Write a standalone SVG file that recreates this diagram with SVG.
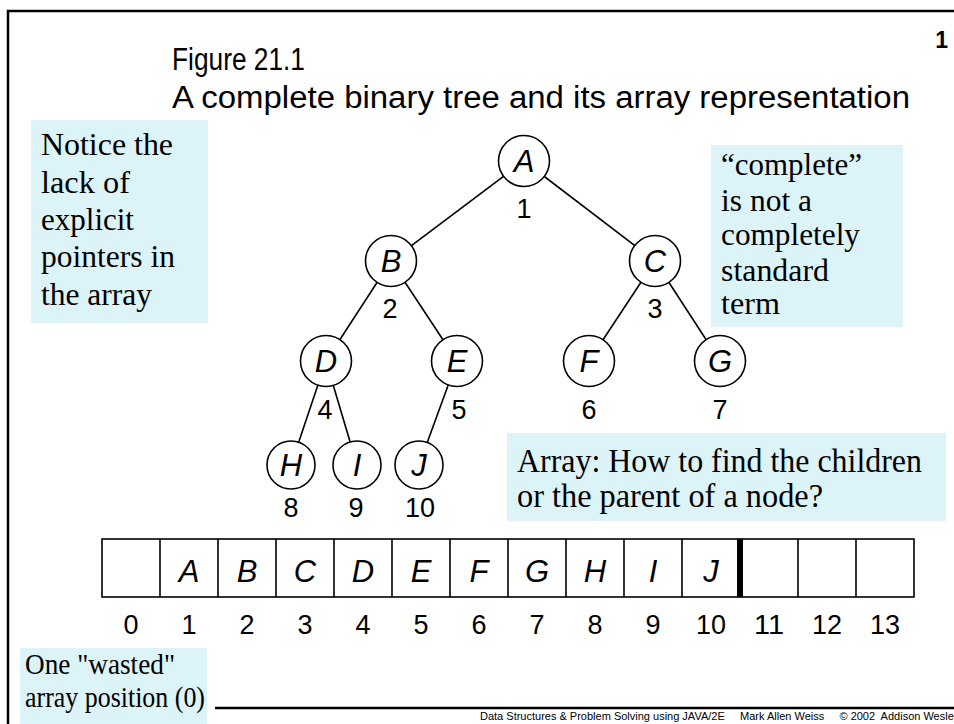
<svg xmlns="http://www.w3.org/2000/svg" width="954" height="724" viewBox="0 0 954 724">
  <style>
    .frame { stroke: #000; stroke-width: 2.5; fill: none; }
    .note { fill: #DCF3F8; }
    .serif { font-family: "Liberation Serif", "Times New Roman", serif; fill: #000; }
    .sans { font-family: "Liberation Sans", Arial, sans-serif; fill: #000; }
    .title { font-size: 31px; }
    .node circle { fill: #fff; stroke: #000; stroke-width: 1.6; }
    .label { font-family: "Liberation Sans", Arial, sans-serif; font-style: italic; font-size: 31px; text-anchor: middle; }
    .idx { font-family: "Liberation Sans", Arial, sans-serif; font-size: 27px; text-anchor: middle; }
    .edges line { stroke: #000; stroke-width: 1.6; }
    .cell { fill: #fff; stroke: #000; stroke-width: 1.6; }
    .foot { font-family: "Liberation Sans", Arial, sans-serif; font-size: 11px; }
  </style>

  <rect width="954" height="724" fill="#fff"/>

  <!-- slide frame -->
  <path class="frame" d="M8,724 V11 H954"/>
  <line x1="215" y1="708" x2="954" y2="708" stroke="#000" stroke-width="2.5"/>
  <text class="sans" x="948" y="48" font-size="23" font-weight="bold" text-anchor="end">1</text>

  <!-- title -->
  <g id="title" class="sans title">
    <text x="172" y="70" textLength="133" lengthAdjust="spacingAndGlyphs">Figure 21.1</text>
    <text x="172" y="108" textLength="738" lengthAdjust="spacingAndGlyphs">A complete binary tree and its array representation</text>
  </g>

  <!-- side notes -->
  <g id="note-pointers">
    <rect class="note" x="31" y="120" width="177" height="203"/>
    <g class="serif" font-size="31">
      <text x="41" y="155" textLength="132" lengthAdjust="spacingAndGlyphs">Notice the</text>
      <text x="41" y="193" textLength="89" lengthAdjust="spacingAndGlyphs">lack of</text>
      <text x="41" y="230" textLength="93" lengthAdjust="spacingAndGlyphs">explicit</text>
      <text x="41" y="267" textLength="134" lengthAdjust="spacingAndGlyphs">pointers in</text>
      <text x="41" y="305" textLength="111" lengthAdjust="spacingAndGlyphs">the array</text>
    </g>
  </g>

  <g id="note-complete">
    <rect class="note" x="711" y="145" width="192" height="182"/>
    <g class="serif" font-size="31">
      <text x="721" y="175" textLength="141" lengthAdjust="spacingAndGlyphs">“complete”</text>
      <text x="721" y="211" textLength="91" lengthAdjust="spacingAndGlyphs">is not a</text>
      <text x="721" y="245" textLength="139" lengthAdjust="spacingAndGlyphs">completely</text>
      <text x="721" y="281" textLength="108" lengthAdjust="spacingAndGlyphs">standard</text>
      <text x="721" y="314" textLength="59" lengthAdjust="spacingAndGlyphs">term</text>
    </g>
  </g>

  <g id="note-array">
    <rect class="note" x="507" y="433" width="439" height="88"/>
    <g class="serif" font-size="33">
      <text x="517" y="472" textLength="405" lengthAdjust="spacingAndGlyphs">Array: How to find the children</text>
      <text x="517" y="507" textLength="306" lengthAdjust="spacingAndGlyphs">or the parent of a node?</text>
    </g>
  </g>

  <g id="note-wasted">
    <rect class="note" x="20" y="648" width="187" height="76"/>
    <g class="serif" font-size="29">
      <text x="25" y="674" textLength="150" lengthAdjust="spacingAndGlyphs">One "wasted"</text>
      <text x="25" y="707" textLength="180" lengthAdjust="spacingAndGlyphs">array position (0)</text>
    </g>
  </g>

  <!-- tree edges -->
  <g id="edges" class="edges">
    <line x1="524" y1="161" x2="391" y2="261"/>
    <line x1="524" y1="161" x2="655" y2="261"/>
    <line x1="391" y1="261" x2="326" y2="361"/>
    <line x1="391" y1="261" x2="457" y2="361"/>
    <line x1="655" y1="261" x2="589" y2="361"/>
    <line x1="655" y1="261" x2="720" y2="361"/>
    <line x1="326" y1="361" x2="291" y2="465"/>
    <line x1="326" y1="361" x2="357" y2="465"/>
    <line x1="457" y1="361" x2="419" y2="465"/>
  </g>

  <!-- tree nodes -->
  <g id="node-A" class="node"><circle cx="524" cy="161" r="25.5"/><text class="label" x="524" y="172">A</text><text class="idx" x="524" y="218">1</text></g>
  <g id="node-B" class="node"><circle cx="391" cy="261" r="25.5"/><text class="label" x="391" y="272">B</text><text class="idx" x="390" y="318">2</text></g>
  <g id="node-C" class="node"><circle cx="655" cy="261" r="25.5"/><text class="label" x="655" y="272">C</text><text class="idx" x="655" y="318">3</text></g>
  <g id="node-D" class="node"><circle cx="326" cy="361" r="25.5"/><text class="label" x="326" y="372">D</text><text class="idx" x="325" y="419">4</text></g>
  <g id="node-E" class="node"><circle cx="457" cy="361" r="25.5"/><text class="label" x="457" y="372">E</text><text class="idx" x="459" y="419">5</text></g>
  <g id="node-F" class="node"><circle cx="589" cy="361" r="25.5"/><text class="label" x="589" y="372">F</text><text class="idx" x="589" y="419">6</text></g>
  <g id="node-G" class="node"><circle cx="720" cy="361" r="25.5"/><text class="label" x="720" y="372">G</text><text class="idx" x="720" y="419">7</text></g>
  <g id="node-H" class="node"><circle cx="291" cy="465" r="24"/><text class="label" x="291" y="476">H</text><text class="idx" x="291" y="517">8</text></g>
  <g id="node-I" class="node"><circle cx="357" cy="465" r="24"/><text class="label" x="357" y="476">I</text><text class="idx" x="356" y="517">9</text></g>
  <g id="node-J" class="node"><circle cx="419" cy="465" r="24"/><text class="label" x="419" y="476">J</text><text class="idx" x="420" y="517">10</text></g>

  <!-- array representation -->
  <g id="array">
    <rect class="cell" x="102" y="539" width="812" height="58"/>
    <g stroke="#000" stroke-width="1.6">
      <line x1="160" y1="539" x2="160" y2="597"/>
      <line x1="218" y1="539" x2="218" y2="597"/>
      <line x1="276" y1="539" x2="276" y2="597"/>
      <line x1="334" y1="539" x2="334" y2="597"/>
      <line x1="392" y1="539" x2="392" y2="597"/>
      <line x1="450" y1="539" x2="450" y2="597"/>
      <line x1="508" y1="539" x2="508" y2="597"/>
      <line x1="566" y1="539" x2="566" y2="597"/>
      <line x1="624" y1="539" x2="624" y2="597"/>
      <line x1="682" y1="539" x2="682" y2="597"/>
      <line x1="798" y1="539" x2="798" y2="597"/>
      <line x1="856" y1="539" x2="856" y2="597"/>
    </g>
    <line x1="740" y1="539" x2="740" y2="597" stroke="#000" stroke-width="6"/>
    <g class="label">
      <text x="189" y="582">A</text>
      <text x="247" y="582">B</text>
      <text x="305" y="582">C</text>
      <text x="363" y="582">D</text>
      <text x="421" y="582">E</text>
      <text x="479" y="582">F</text>
      <text x="537" y="582">G</text>
      <text x="595" y="582">H</text>
      <text x="653" y="582">I</text>
      <text x="711" y="582">J</text>
    </g>
    <g class="idx" font-size="28">
      <text x="131" y="634">0</text>
      <text x="189" y="634">1</text>
      <text x="247" y="634">2</text>
      <text x="305" y="634">3</text>
      <text x="363" y="634">4</text>
      <text x="421" y="634">5</text>
      <text x="479" y="634">6</text>
      <text x="537" y="634">7</text>
      <text x="595" y="634">8</text>
      <text x="653" y="634">9</text>
      <text x="711" y="634" textLength="30" lengthAdjust="spacingAndGlyphs">10</text>
      <text x="769" y="634" textLength="30" lengthAdjust="spacingAndGlyphs">11</text>
      <text x="827" y="634" textLength="30" lengthAdjust="spacingAndGlyphs">12</text>
      <text x="885" y="634" textLength="30" lengthAdjust="spacingAndGlyphs">13</text>
    </g>
  </g>

  <!-- footer -->
  <text class="foot" x="480" y="720" xml:space="preserve">Data Structures &amp; Problem Solving using JAVA/2E     Mark Allen Weiss     © 2002  Addison Wesley</text>
</svg>
